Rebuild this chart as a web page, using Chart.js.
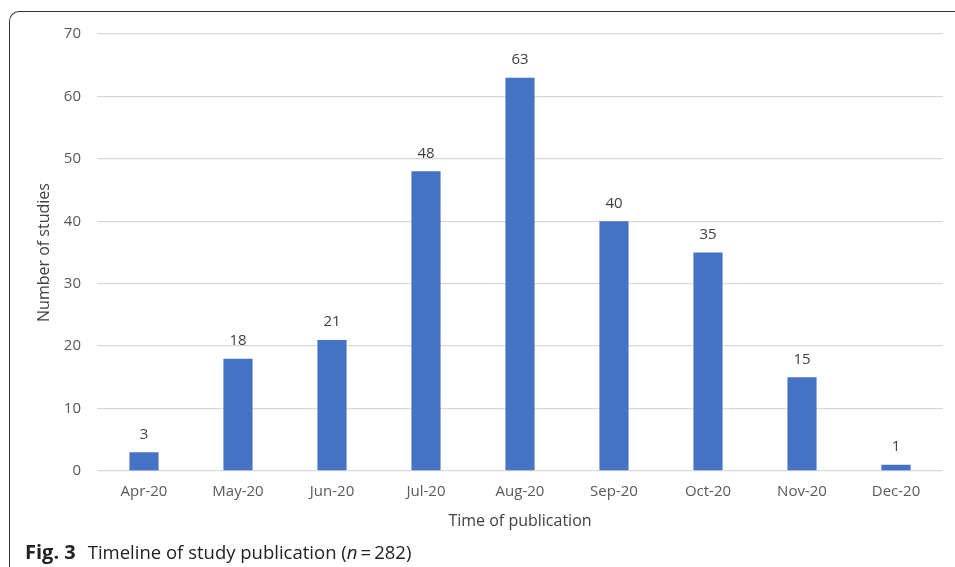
<!DOCTYPE html>
<html>
<head>
<meta charset="utf-8">
<script src="https://cdn.jsdelivr.net/npm/chart.js@4"></script>
<style>
    body { margin: 0; background: #fff; }
    #wrap { position: relative; width: 955px; height: 567px; overflow: hidden; }
    #frame {
        position: absolute; left: 9px; top: 11px; width: 1000px; height: 600px;
        border-top: 1.5px solid #333; border-left: 1.5px solid #333;
        border-top-left-radius: 10px;
    }
    #chartBox { position: absolute; left: 0; top: 0; width: 955px; height: 567px; }
    #caption {
        position: absolute; left: 25px; top: 538px;
        font-family: "Open Sans", sans-serif; font-size: 18.5px; color: #222;
        white-space: nowrap;
    }
    #caption b { font-size: 20px; margin-right: 12px; }
</style>
</head>
<body>
<div id="wrap">
    <div id="frame"></div>
    <div id="chartBox"><canvas id="pubChart"></canvas></div>
    <div id="caption"><b>Fig. 3</b>Timeline of study publication (<i>n</i>&thinsp;=&thinsp;282)</div>
</div>
<script>
// --- data ---
const months = ['Apr-20', 'May-20', 'Jun-20', 'Jul-20', 'Aug-20', 'Sep-20', 'Oct-20', 'Nov-20', 'Dec-20'];
const studies = [3, 18, 21, 48, 63, 40, 35, 15, 1];
const yTicks = [0, 10, 20, 30, 40, 50, 60, 70];

const textGrey = '#595959';

// labels above bars
const barLabels = {
    id: 'barLabels',
    afterDatasetsDraw(chart) {
        const ctx = chart.ctx;
        const meta = chart.getDatasetMeta(0);
        ctx.save();
        ctx.font = '15px "Open Sans", sans-serif';
        ctx.fillStyle = '#404040';
        ctx.textAlign = 'center';
        ctx.textBaseline = 'middle';
        meta.data.forEach((bar, i) => {
            ctx.fillText(studies[i], bar.x, bar.y - 18);
        });
        ctx.restore();
    }
};

new Chart(document.getElementById('pubChart'), {
    type: 'bar',
    data: {
        labels: months,
        datasets: [{
            data: studies,
            backgroundColor: '#4472C4',
            borderWidth: 0,
            barPercentage: 0.31,
            categoryPercentage: 1
        }]
    },
    options: {
        responsive: true,
        maintainAspectRatio: false,
        animation: false,
        layout: { padding: { left: 35, right: 12, top: 34, bottom: 32 } },
        plugins: { legend: { display: false }, tooltip: { enabled: false } },
        scales: {
            x: {
                grid: { display: false, drawTicks: false },
                border: { display: false },
                ticks: { color: textGrey, font: { family: 'Open Sans', size: 15 }, padding: 12 },
                title: {
                    display: true, text: 'Time of publication', color: '#404040',
                    font: { family: 'Open Sans', size: 16 }, padding: { top: 4 }
                },
                afterFit(s) { s.height = 64; }
            },
            y: {
                min: 0, max: 70,
                afterBuildTicks(s) { s.ticks = yTicks.map(v => ({ value: v })); },
                grid: { color: '#d9d9d9', lineWidth: 1.3, drawTicks: false },
                border: { display: false },
                ticks: { color: textGrey, font: { family: 'Open Sans', size: 15 }, padding: 16 },
                title: {
                    display: true, text: 'Number of studies', color: '#404040',
                    font: { family: 'Open Sans', size: 16 }, padding: 0
                },
                afterFit(s) { s.width = 62; }
            }
        }
    },
    plugins: [barLabels]
});
</script>
</body>
</html>
